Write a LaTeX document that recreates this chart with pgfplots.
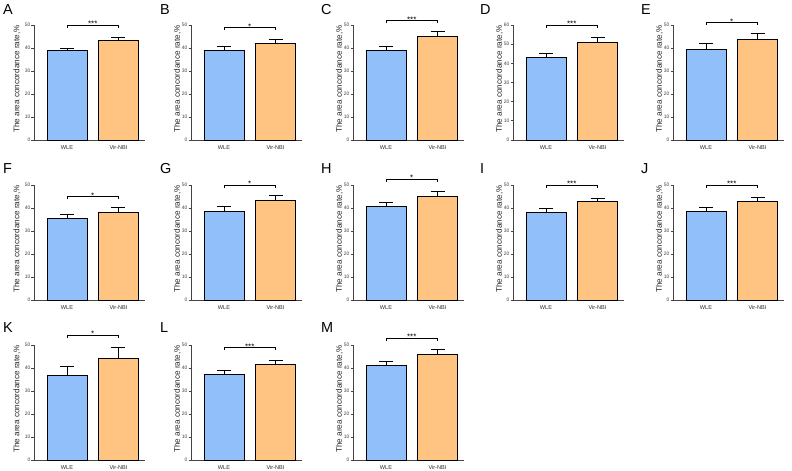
\documentclass[border=0pt]{standalone}
\usepackage{fontspec}
\setmainfont{Liberation Sans}
\usepackage{pgfplots}
\pgfplotsset{compat=1.18}
\definecolor{wle}{HTML}{91BFFA}
\definecolor{vir}{HTML}{FFC482}
\definecolor{axgray}{HTML}{444444}
\pgfplotsset{
 panel/.style={
  scale only axis, width=110.5bp, height=115bp, anchor=south west,
  xmin=0.359, xmax=2.505, ymin=0, ymax=50,
  axis x line=bottom, axis y line=left,
  axis line style={-, axgray, line width=0.9bp},
  xtick={1,2}, xticklabels={WLE,Vir-NBI}, xtick style={draw=none},
  ytick distance=10, ytick style={axgray, line width=0.7bp},
  tick align=outside, major tick length=2.5bp,
  /pgf/number format/assume math mode=true,
  yticklabel style={font=\fontsize{5}{5.5}\selectfont, text=black!75, inner sep=1bp},
  xticklabel style={font=\fontsize{5.6}{6}\selectfont, text=black!85, inner sep=1bp, yshift=-2bp},
  ylabel={The area concordance rate,\%},
  ylabel style={at={(axis description cs:-0.122,0.53)}, anchor=center,
    font=\fontsize{8.2}{9}\selectfont, text=black!85},
  clip=false,
 },
 firstcol/.style={ylabel style={at={(axis description cs:-0.155,0.53)}}},
 barw/.style={ybar, bar width=40bp, bar shift=0pt, draw=black, line width=0.8bp,
  error bars/y dir=plus, error bars/y explicit,
  error bars/error bar style={black, line width=0.8bp},
  error bars/error mark options={black, rotate=90, mark size=7bp, line width=0.8bp}},
 brk/.style={black, line width=0.7bp, mark=none},
}
\tikzset{stars/.style={anchor=base, inner sep=0pt, yshift=-1.5bp, font=\fontsize{8}{8}\selectfont},
 letter/.style={anchor=west, inner sep=0pt, font=\fontsize{14.5}{14.5}\selectfont}}
\begin{document}
\begin{tikzpicture}
\useasboundingbox (0,0) rectangle (792bp,-471bp);
% ---------- Row 1 ----------
% A
\begin{axis}[panel, at={(34bp,-140bp)}, firstcol]
\addplot[barw, fill=wle] coordinates {(1,38.9) +- (0,1.1)};
\addplot[barw, fill=vir] coordinates {(2,43.4) +- (0,1.1)};
\addplot[brk] coordinates {(1,48.7) (1,49.9) (2,49.9) (2,48.7)};
\node[stars] at (axis cs:1.5,49.9) {***};
\end{axis}
\node[letter] at (3bp,-10bp) {A};
% B
\begin{axis}[panel, at={(191bp,-140bp)}]
\addplot[barw, fill=wle] coordinates {(1,39.0) +- (0,1.5)};
\addplot[barw, fill=vir] coordinates {(2,42.1) +- (0,1.6)};
\addplot[brk] coordinates {(1,47.7) (1,48.9) (2,48.9) (2,47.7)};
\node[stars] at (axis cs:1.5,48.9) {*};
\end{axis}
\node[letter] at (160bp,-10bp) {B};
% C
\begin{axis}[panel, at={(353bp,-140bp)}]
\addplot[barw, fill=wle] coordinates {(1,39.0) +- (0,1.9)};
\addplot[barw, fill=vir] coordinates {(2,45.0) +- (0,2.2)};
\addplot[brk] coordinates {(1,50.7) (1,51.9) (2,51.9) (2,50.7)};
\node[stars] at (axis cs:1.5,51.9) {***};
\end{axis}
\node[letter] at (321bp,-10bp) {C};
% D
\begin{axis}[panel, at={(513bp,-140bp)}, ymax=60]
\addplot[barw, fill=wle] coordinates {(1,43.1) +- (0,2.1)};
\addplot[barw, fill=vir] coordinates {(2,51.0) +- (0,2.4)};
\addplot[brk] coordinates {(1,58.6) (1,60.0) (2,60.0) (2,58.6)};
\node[stars] at (axis cs:1.5,60.0) {***};
\end{axis}
\node[letter] at (480bp,-10bp) {D};
% E
\begin{axis}[panel, at={(673bp,-140bp)}]
\addplot[barw, fill=wle] coordinates {(1,39.3) +- (0,2.9)};
\addplot[barw, fill=vir] coordinates {(2,43.9) +- (0,2.5)};
\addplot[brk] coordinates {(1,49.8) (1,51.0) (2,51.0) (2,49.8)};
\node[stars] at (axis cs:1.5,51.0) {*};
\end{axis}
\node[letter] at (641bp,-10bp) {E};
% ---------- Row 2 ----------
% F
\begin{axis}[panel, at={(34bp,-300bp)}, firstcol]
\addplot[barw, fill=wle] coordinates {(1,35.3) +- (0,1.9)};
\addplot[barw, fill=vir] coordinates {(2,38.2) +- (0,2.2)};
\addplot[brk] coordinates {(1,43.7) (1,44.9) (2,44.9) (2,43.7)};
\node[stars] at (axis cs:1.5,44.9) {*};
\end{axis}
\node[letter] at (3bp,-169bp) {F};
% G
\begin{axis}[panel, at={(191bp,-300bp)}]
\addplot[barw, fill=wle] coordinates {(1,38.6) +- (0,1.9)};
\addplot[barw, fill=vir] coordinates {(2,43.4) +- (0,1.9)};
\addplot[brk] coordinates {(1,48.8) (1,50.0) (2,50.0) (2,48.8)};
\node[stars] at (axis cs:1.5,50.0) {*};
\end{axis}
\node[letter] at (160bp,-169bp) {G};
% H
\begin{axis}[panel, at={(353bp,-300bp)}]
\addplot[barw, fill=wle] coordinates {(1,40.5) +- (0,2.0)};
\addplot[barw, fill=vir] coordinates {(2,45.1) +- (0,2.3)};
\addplot[brk] coordinates {(1,51.4) (1,52.6) (2,52.6) (2,51.4)};
\node[stars] at (axis cs:1.5,52.6) {*};
\end{axis}
\node[letter] at (321bp,-169bp) {H};
% I
\begin{axis}[panel, at={(513bp,-300bp)}]
\addplot[barw, fill=wle] coordinates {(1,38.2) +- (0,1.7)};
\addplot[barw, fill=vir] coordinates {(2,42.7) +- (0,1.6)};
\addplot[brk] coordinates {(1,48.7) (1,49.9) (2,49.9) (2,48.7)};
\node[stars] at (axis cs:1.5,49.9) {***};
\end{axis}
\node[letter] at (480bp,-169bp) {I};
% J
\begin{axis}[panel, at={(673bp,-300bp)}]
\addplot[barw, fill=wle] coordinates {(1,38.5) +- (0,1.6)};
\addplot[barw, fill=vir] coordinates {(2,42.7) +- (0,1.7)};
\addplot[brk] coordinates {(1,48.8) (1,50.0) (2,50.0) (2,48.8)};
\node[stars] at (axis cs:1.5,50.0) {***};
\end{axis}
\node[letter] at (641bp,-169bp) {J};
% ---------- Row 3 ----------
% K
\begin{axis}[panel, at={(34bp,-460bp)}, firstcol]
\addplot[barw, fill=wle] coordinates {(1,37.0) +- (0,3.7)};
\addplot[barw, fill=vir] coordinates {(2,44.0) +- (0,4.9)};
\addplot[brk] coordinates {(1,53.1) (1,54.3) (2,54.3) (2,53.1)};
\node[stars] at (axis cs:1.5,54.3) {*};
\end{axis}
\node[letter] at (3bp,-328bp) {K};
% L
\begin{axis}[panel, at={(191bp,-460bp)}]
\addplot[barw, fill=wle] coordinates {(1,37.3) +- (0,1.7)};
\addplot[barw, fill=vir] coordinates {(2,41.7) +- (0,1.6)};
\addplot[brk] coordinates {(1,47.7) (1,48.9) (2,48.9) (2,47.7)};
\node[stars] at (axis cs:1.5,48.9) {***};
\end{axis}
\node[letter] at (160bp,-328bp) {L};
% M
\begin{axis}[panel, at={(353bp,-460bp)}]
\addplot[barw, fill=wle] coordinates {(1,41.1) +- (0,1.6)};
\addplot[barw, fill=vir] coordinates {(2,46.1) +- (0,1.9)};
\addplot[brk] coordinates {(1,51.7) (1,52.9) (2,52.9) (2,51.7)};
\node[stars] at (axis cs:1.5,52.9) {***};
\end{axis}
\node[letter] at (321bp,-328bp) {M};
\end{tikzpicture}
\end{document}
